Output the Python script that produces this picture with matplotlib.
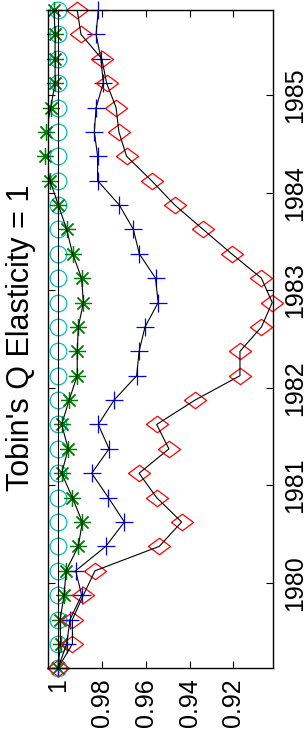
import matplotlib
matplotlib.use("Agg")
import matplotlib.pyplot as plt
import numpy as np

plt.rcParams['font.family'] = ['Liberation Sans', 'DejaVu Sans']

# quarterly time points (mid-quarter)
t = [1979.125, 1979.375, 1979.625, 1979.875,
     1980.125, 1980.375, 1980.625, 1980.875,
     1981.125, 1981.375, 1981.625, 1981.875,
     1982.125, 1982.375, 1982.625, 1982.875,
     1983.125, 1983.375, 1983.625, 1983.875,
     1984.125, 1984.375, 1984.625, 1984.875,
     1985.125, 1985.375, 1985.625, 1985.875]

cyan_vals = [1.0] * 28
red_vals = [1.0, 0.9934, 0.9934, 0.9884, 0.9831, 0.9538, 0.9436, 0.9550,
            0.9630, 0.9494, 0.9550, 0.9375, 0.9170, 0.9170, 0.9072, 0.9023,
            0.9072, 0.9208, 0.9338, 0.9467, 0.9573, 0.9687, 0.9722, 0.9735,
            0.9778, 0.9800, 0.9895, 0.9912]
blue_vals = [1.0, 0.9960, 0.9945, 0.9892, 0.9919, 0.9782, 0.9697, 0.9770,
             0.9846, 0.9767, 0.9816, 0.9744, 0.9641, 0.9630, 0.9603, 0.9543,
             0.9555, 0.9629, 0.9656, 0.9720, 0.9819, 0.9819, 0.9834, 0.9826,
             0.9793, 0.9804, 0.9826, 0.9816]
green_vals = [1.0, 0.9988, 0.9990, 0.9972, 0.9963, 0.9907, 0.9889, 0.9934,
              0.9983, 0.9953, 0.9983, 0.9949, 0.9912, 0.9912, 0.9907, 0.9884,
              0.9892, 0.9933, 0.9960, 0.9998, 1.0036, 1.0059, 1.0054, 1.0033,
              1.0013, 1.0013, 1.0013, 1.0018]

year_ticks = [1980, 1981, 1982, 1983, 1984, 1985]
val_ticks = [1.0, 0.98, 0.96, 0.94, 0.92]
val_labels = ['1', '0.98', '0.96', '0.94', '0.92']
title = "Tobin's Q Elasticity = 1"

# wide diamond (chart is drawn rotated)
diamond = [(-1.35, 0), (0, 1), (1.35, 0), (0, -1), (-1.35, 0)]

fig = plt.figure(figsize=(3.07, 7.40), dpi=100)
ax = fig.add_axes([48.5 / 307, 71.7 / 740, 224.8 / 307, 658.3 / 740])

series = [
    (cyan_vals, 'o', '#00BFBF', 12),
    (green_vals, (8, 2, 0), '#008000', 12),
    (blue_vals, '+', '#0000FF', 12.5),
    (red_vals, diamond, '#FF0000', 16),
]
for vals, mk, col, ms in series:
    ax.plot(vals, t, linestyle='none', marker=mk, markersize=ms,
            markerfacecolor='none', markeredgecolor=col, markeredgewidth=0.9,
            clip_on=False, zorder=2)
for vals, mk, col, ms in series:
    ax.plot(vals, t, color='black', linewidth=0.8, zorder=3)

ax.set_xlim(1.0043, 0.9018)
ax.set_ylim(1979.125, 1985.875)

ax.set_xticks(val_ticks)
ax.set_xticklabels(val_labels, rotation=90, fontsize=18)
ax.set_yticks(year_ticks)
ax.set_yticklabels([str(y) for y in year_ticks], rotation=90, fontsize=18, va='center')

ax.tick_params(axis='x', direction='in', length=5, width=0.8, top=True, bottom=True,
               labelbottom=True, labeltop=False, pad=7)
ax.tick_params(axis='y', direction='in', length=5, width=0.8, left=True, right=True,
               labelleft=False, labelright=True, pad=7)
for s in ax.spines.values():
    s.set_linewidth(1.0)

fig.text(21 / 307, 1 - 337.5 / 740, title, rotation=90, fontsize=22,
         ha='center', va='center')

fig.savefig('out.png', dpi=100)
